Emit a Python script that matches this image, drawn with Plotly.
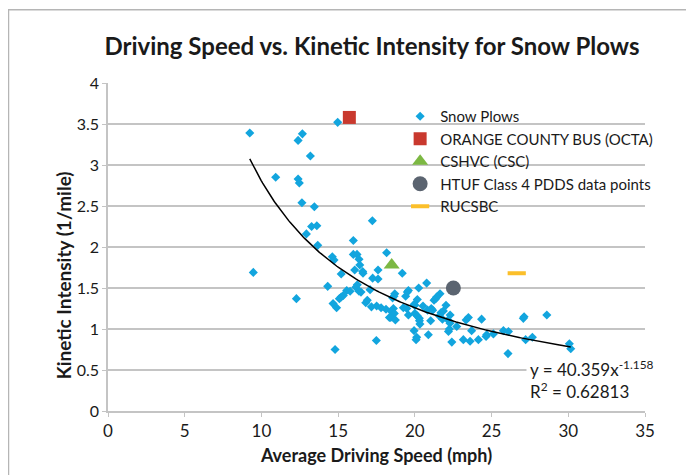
import numpy as np
import plotly.graph_objects as go

# ==========================================================
# DATA
# ==========================================================

plow_speed = [
    9.24, 9.47, 10.93, 12.28, 12.39, 12.67, 13.19, 12.39, 12.47, 12.64,
    13.45, 13.27, 13.61, 12.93, 13.67, 14.97, 14.62, 14.73, 15.99, 15.99,
    16.23, 16.36, 16.41, 16.08, 16.60, 16.62, 17.23, 17.60, 17.25, 17.60,
    15.20, 14.32, 18.16, 15.56, 15.78, 16.15, 16.25, 16.36, 16.49, 17.08,
    15.20, 15.08, 15.34, 14.67, 14.90, 16.80, 16.90, 17.17, 17.51, 17.80,
    18.12, 18.34, 17.49, 14.80,
    19.18, 20.77, 20.25, 19.58, 19.51, 21.64, 18.69, 18.64, 18.55, 19.40,
    20.00, 20.16, 20.53, 21.25, 21.36, 21.42, 22.03, 21.86, 21.71, 21.07,
    21.16, 18.60, 18.49, 18.66, 18.43, 18.73, 19.25, 19.47, 19.58, 20.00,
    20.16, 20.29, 20.33, 20.88, 19.95, 20.12, 20.08, 21.03, 22.16, 22.29,
    22.25, 22.19, 22.41, 22.73, 23.16, 23.60, 23.34, 23.49, 23.70, 24.14,
    24.35, 24.64, 24.68, 25.12, 25.77, 26.10, 26.07, 27.07, 27.12, 27.22,
    27.66, 28.60, 30.07, 30.16, 19.95, 20.83, 21.60, 21.80, 22.30, 20.30
]

plow_ki = [
    3.39, 1.69, 2.85, 1.37, 3.30, 3.38, 3.11, 2.83, 2.78, 2.54,
    2.49, 2.25, 2.26, 2.16, 2.02, 3.52, 1.88, 1.84, 2.08, 1.91,
    1.91, 1.85, 1.78, 1.72, 1.70, 1.68, 2.32, 1.72, 1.62, 1.61,
    1.67, 1.52, 1.93, 1.47, 1.46, 1.51, 1.54, 1.46, 1.45, 1.48,
    1.39, 1.37, 1.41, 1.31, 1.26, 1.32, 1.35, 1.27, 1.28, 1.26,
    1.24, 1.14, 0.86, 0.75,
    1.68, 1.56, 1.50, 1.47, 1.45, 1.43, 1.43, 1.40, 1.38, 1.40,
    1.29, 1.36, 1.28, 1.35, 1.37, 1.39, 1.29, 1.22, 1.20, 1.25,
    1.23, 1.25, 1.21, 1.19, 1.14, 1.11, 1.26, 1.25, 1.17, 1.19,
    1.16, 1.13, 1.06, 0.93, 0.98, 0.90, 0.87, 1.10, 1.11, 1.07,
    1.00, 0.97, 0.84, 1.03, 0.87, 0.85, 1.11, 1.14, 0.98, 0.87,
    1.12, 0.91, 0.93, 0.94, 0.98, 0.97, 0.70, 1.13, 1.15, 0.87,
    0.90, 1.17, 0.82, 0.76, 1.30, 1.23, 1.16, 1.12, 1.17, 1.10
]

octa_speed = [15.73]
octa_ki = [3.58]

cshvc_speed = [18.49]
cshvc_ki = [1.78]

htuf_speed = [22.51]
htuf_ki = [1.50]

rucsbc_speed = [26.64]
rucsbc_ki = [1.68]

# power trendline y = a * x^b
fit_a = 40.359
fit_b = -1.158
fit_r2 = 0.62813

TEXT = "#1a1a1a"
GRID = "#c4c4c4"
FONT = "Lato"

# ==========================================================
# FIGURE
# ==========================================================

fit_x = np.linspace(min(plow_speed), max(plow_speed), 200)
fit_y = fit_a * fit_x ** fit_b

fig = go.Figure()

fig.add_trace(go.Scatter(
    x=plow_speed, y=plow_ki, mode="markers", name="Snow Plows",
    marker=dict(symbol="diamond", size=7, color="#12a5de")
))

fig.add_trace(go.Scatter(
    x=octa_speed, y=octa_ki, mode="markers", name="ORANGE COUNTY BUS (OCTA)",
    marker=dict(symbol="square", size=13, color="#c9392e")
))

fig.add_trace(go.Scatter(
    x=cshvc_speed, y=cshvc_ki, mode="markers", name="CSHVC (CSC)",
    marker=dict(symbol="triangle-up", size=14, color="#7cb843")
))

fig.add_trace(go.Scatter(
    x=htuf_speed, y=htuf_ki, mode="markers", name="HTUF Class 4 PDDS data points",
    marker=dict(symbol="circle", size=15, color="#5b6470")
))

fig.add_trace(go.Scatter(
    x=rucsbc_speed, y=rucsbc_ki, mode="markers", name="RUCSBC",
    marker=dict(symbol="line-ew", size=13, color="#fbbf2a",
                line=dict(width=4, color="#fbbf2a"))
))

fig.add_trace(go.Scatter(
    x=fit_x, y=fit_y, mode="lines", showlegend=False,
    line=dict(color="black", width=1.5)
))

# ==========================================================
# LAYOUT
# ==========================================================

# page body adds an 8px offset, so the figure is sized to fit after it
fig.update_layout(
    width=686,
    height=467,
    paper_bgcolor="white",
    plot_bgcolor="white",
    font=dict(family=FONT, color=TEXT, size=16),
    margin=dict(l=100, r=49, t=75, b=64),
    title=dict(
        text="<b>Driving Speed vs. Kinetic Intensity for Snow Plows</b>",
        x=0.4916, xref="paper", xanchor="center",
        y=0.917, yanchor="middle",
        font=dict(size=24, color=TEXT, family=FONT)
    ),
    legend=dict(
        x=0.544, y=0.948, xanchor="left", yanchor="top",
        bgcolor="rgba(0,0,0,0)",
        font=dict(size=15, color=TEXT, family=FONT),
        itemsizing="trace", tracegroupgap=0
    ),
    showlegend=True
)

fig.update_xaxes(
    range=[0, 35], dtick=5, tick0=0,
    showgrid=False, zeroline=False,
    showline=True, linecolor=GRID, linewidth=1.5,
    ticks="outside", ticklen=4, tickcolor=GRID,
    tickfont=dict(size=17, color=TEXT),
    title=dict(text="<b>Average Driving Speed (mph)</b>",
               font=dict(size=18, color=TEXT), standoff=9)
)

fig.update_yaxes(
    range=[0, 4], dtick=0.5, tick0=0,
    showgrid=True, gridcolor=GRID, gridwidth=1.5,
    zeroline=False,
    showline=True, linecolor=GRID, linewidth=1.5,
    ticks="outside", ticklen=4, tickcolor=GRID,
    tickfont=dict(size=16, color=TEXT)
)

# y axis title placed as an annotation to match its offset position
fig.add_annotation(
    xref="paper", yref="paper", x=-0.083, y=0.415,
    xanchor="center", yanchor="middle", textangle=-90,
    text="<b>Kinetic Intensity (1/mile)</b>",
    showarrow=False, font=dict(size=19, color=TEXT, family=FONT)
)

fig.add_annotation(
    xref="paper", yref="paper", x=0.778, y=0.096,
    xanchor="left", yanchor="middle", align="left",
    text=f"y = {fit_a}x<sup>{fit_b}</sup><br>R<sup>2</sup> = {fit_r2}",
    showarrow=False, bgcolor="white", borderpad=3,
    font=dict(size=17, color=TEXT, family=FONT)
)

# outer chart border
fig.add_shape(
    type="rect", xref="paper", yref="paper",
    x0=-0.1853, y0=-0.4, x1=1.3, y1=1.223,
    line=dict(color="#b5b5b5", width=1.5), fillcolor="rgba(0,0,0,0)"
)

fig.write_html("out.html")
